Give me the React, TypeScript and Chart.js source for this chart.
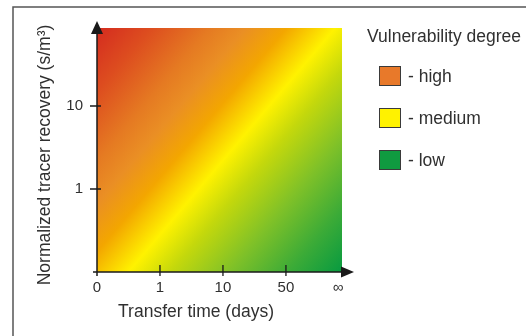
import React, { useEffect, useRef } from 'react';
import { Chart, registerables } from 'chart.js';

Chart.register(...registerables);

// ---- data ----
const xTickValues = [0, 1, 2, 3, 3.83];
const xTickLabels = ['0', '1', '10', '50', '∞'];
const xMax = 3.89;
const yTickValues = [1, 2];
const yTickLabels = ['1', '10'];
const yMax = 2.94;
const xTitle = 'Transfer time (days)';
const yTitle = 'Normalized tracer recovery (s/m³)';
const legendTitle = 'Vulnerability degree';
const legendLabels = ['- high', '- medium', '- low'];
const legendColors = ['#e8792a', '#fff200', '#109a40'];
const gradientStops = [0, 0.12, 0.25, 0.33, 0.42, 0.527, 0.62, 0.75, 0.88, 1];
const gradientColors = ['#d42b1f', '#dd4d1f', '#e57a22', '#ea8f24', '#f3a600', '#fff200', '#c4d80c', '#7fc128', '#3cab37', '#079a40'];

const FONT = '"Liberation Sans", Arial, Helvetica, sans-serif';
const TEXT = '#303030';
const AXIS = '#1a1a1a';

const decor = {
  id: 'decor',
  beforeDatasetsDraw(chart: any) {
    const { ctx, chartArea: a } = chart;
    const w = a.right - a.left;
    const h = a.bottom - a.top;
    const nx = 1.0, ny = 0.848;
    const nl = Math.hypot(nx, ny);
    const L = (w * nx + h * ny) / nl;
    const g = ctx.createLinearGradient(a.left, a.top, a.left + (nx / nl) * L, a.top + (ny / nl) * L);
    gradientStops.forEach((s, i) => g.addColorStop(s, gradientColors[i]));
    ctx.save();
    ctx.fillStyle = g;
    ctx.fillRect(a.left, a.top, w, h);
    ctx.restore();
  },
  afterDraw(chart: any) {
    const { ctx, chartArea: a, scales } = chart;
    const xs = scales.x;
    const ys = scales.y;
    ctx.save();
    // frame
    ctx.strokeStyle = '#555555';
    ctx.lineWidth = 1.5;
    ctx.beginPath();
    ctx.moveTo(13, 336);
    ctx.lineTo(13, 7);
    ctx.lineTo(526, 7);
    ctx.stroke();

    // axes
    ctx.strokeStyle = AXIS;
    ctx.fillStyle = AXIS;
    ctx.lineWidth = 1.5;
    ctx.beginPath();
    ctx.moveTo(a.left - 4, a.bottom);
    ctx.lineTo(a.right + 1, a.bottom);
    ctx.moveTo(a.left, a.bottom + 4);
    ctx.lineTo(a.left, a.top - 1);
    ctx.stroke();
    // arrows
    ctx.beginPath();
    ctx.moveTo(a.right + 12, a.bottom);
    ctx.lineTo(a.right - 1, a.bottom - 5.5);
    ctx.lineTo(a.right - 1, a.bottom + 5.5);
    ctx.closePath();
    ctx.fill();
    ctx.beginPath();
    ctx.moveTo(a.left, a.top - 7);
    ctx.lineTo(a.left - 6, a.top + 6);
    ctx.lineTo(a.left + 6, a.top + 6);
    ctx.closePath();
    ctx.fill();
    // tick marks
    ctx.lineWidth = 1.3;
    ctx.beginPath();
    xTickValues.slice(1, -1).forEach((v) => {
      const px = xs.getPixelForValue(v);
      ctx.moveTo(px, a.bottom - 7);
      ctx.lineTo(px, a.bottom + 4);
    });
    yTickValues.forEach((v) => {
      const py = ys.getPixelForValue(v);
      ctx.moveTo(a.left - 7, py);
      ctx.lineTo(a.left + 4, py);
    });
    ctx.stroke();

    // axis titles
    ctx.fillStyle = TEXT;
    ctx.font = `17.5px ${FONT}`;
    ctx.textAlign = 'center';
    ctx.textBaseline = 'middle';
    ctx.fillText(xTitle, a.left + 99, a.bottom + 40);
    ctx.save();
    ctx.translate(a.left - 52, (a.top + a.bottom) / 2 + 5);
    ctx.rotate(-Math.PI / 2);
    ctx.fillText(yTitle, 0, 0);
    ctx.restore();

    // legend
    ctx.textAlign = 'left';
    ctx.textBaseline = 'middle';
    ctx.fillText(legendTitle, a.right + 25, a.top + 9);
    legendLabels.forEach((lab, i) => {
      const bx = a.right + 37;
      const by = a.top + 38 + i * 42;
      ctx.fillStyle = legendColors[i];
      ctx.fillRect(bx, by, 22, 20);
      ctx.strokeStyle = '#3a3a3a';
      ctx.lineWidth = 1;
      ctx.strokeRect(bx + 0.5, by + 0.5, 21, 19);
      ctx.fillStyle = TEXT;
      ctx.fillText(lab, bx + 29, by + 11);
    });
    ctx.restore();
  },
};

export default function App() {
  const ref = useRef<HTMLCanvasElement>(null);
  useEffect(() => {
    if (!ref.current) return;
    const chart = new Chart(ref.current, {
      type: 'scatter',
      data: { datasets: [] },
      options: {
        animation: false,
        responsive: false,
        maintainAspectRatio: false,
        events: [],
        layout: { padding: { top: 28, right: 184, left: 0, bottom: 0 } },
        plugins: { legend: { display: false }, tooltip: { enabled: false } },
        scales: {
          x: {
            type: 'linear',
            min: 0,
            max: xMax,
            grid: { display: false, drawTicks: false },
            border: { display: false },
            afterFit: (s: any) => { s.height = 64; },
            afterBuildTicks: (s: any) => { s.ticks = xTickValues.map((v) => ({ value: v })); },
            ticks: {
              autoSkip: false,
              maxRotation: 0,
              padding: 7,
              color: TEXT,
              font: { family: FONT, size: 15 },
              callback: (_v: any, i: number) => xTickLabels[i],
            },
          },
          y: {
            type: 'linear',
            min: 0,
            max: yMax,
            grid: { display: false, drawTicks: false },
            border: { display: false },
            afterFit: (s: any) => { s.width = 97; },
            afterBuildTicks: (s: any) => { s.ticks = yTickValues.map((v) => ({ value: v })); },
            ticks: {
              autoSkip: false,
              padding: 14,
              color: TEXT,
              font: { family: FONT, size: 15 },
              callback: (_v: any, i: number) => yTickLabels[i],
            },
          },
        },
      },
      plugins: [decor],
    });
    return () => chart.destroy();
  }, []);
  return (
    <div style={{ position: 'fixed', left: 0, top: 0, width: 526, height: 336, background: '#ffffff' }}>
      <canvas ref={ref} width={526} height={336} style={{ display: 'block', width: 526, height: 336 }} />
    </div>
  );
}
